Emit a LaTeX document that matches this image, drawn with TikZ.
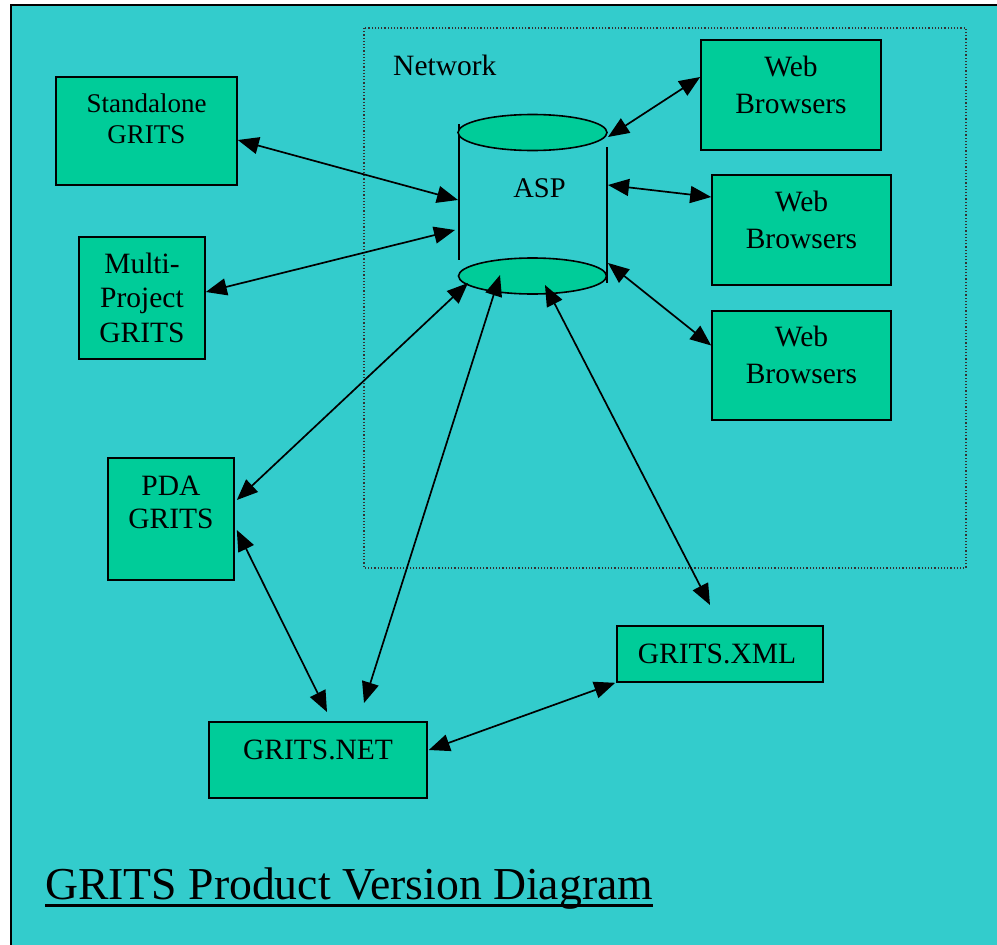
\documentclass[tikz,border=0pt]{standalone}
\usepackage{fontspec}
\setmainfont{Liberation Serif}
\usetikzlibrary{arrows.meta,shapes.geometric}
\definecolor{bg}{HTML}{33CCCC}
\definecolor{boxc}{HTML}{00CC99}
\begin{document}
\begin{tikzpicture}[x=1pt,y=-1pt,
  gbox/.style={draw=black, line width=1.6pt, fill=boxc, inner sep=0pt},
  txt/.style={anchor=base, align=center, inner sep=0pt},
  big/.style={font=\fontsize{29.5}{34.5}\selectfont},
  dbl/.style={{Triangle[length=21pt,width=17pt]}-{Triangle[length=21pt,width=17pt]}, line width=1.7pt},
  cyl/.style={draw=black, line width=1.6pt}]
\useasboundingbox (0,0) rectangle (997,945);
% background and frame
\fill[bg] (11,5) rectangle (1010,960);
\draw[line width=2pt] (11,960) -- (11,5) -- (1010,5);
% network area
\draw[dotted, line width=1.2pt, black!80] (364,28) rectangle (966,568);
\node[anchor=base west, inner sep=0pt, font=\fontsize{29.5}{34}\selectfont] (netlbl) at (393,75) {Network};
% boxes
\node[gbox, minimum width=181pt, minimum height=108pt] (sa) at (146.5,131) {};
\node[gbox, minimum width=126pt, minimum height=122pt] (mp) at (142,298) {};
\node[gbox, minimum width=126pt, minimum height=122pt] (pda) at (171,519) {};
\node[gbox, minimum width=218pt, minimum height=76pt] (net) at (318,760) {};
\node[gbox, minimum width=206pt, minimum height=56pt] (xml) at (720,654) {};
\node[gbox, minimum width=180pt, minimum height=110pt] (wb1) at (791,95) {};
\node[gbox, minimum width=179pt, minimum height=110pt] (wb2) at (801.5,230) {};
\node[gbox, minimum width=179pt, minimum height=109pt] (wb3) at (801.5,365.5) {};
% texts (base anchor = baseline of last line)
\node[txt, font=\fontsize{27}{31}\selectfont] (sa-t) at (146.5,143) {Standalone\\GRITS};
\node[txt, big] (mp-t) at (142,342) {Multi-\\Project\\GRITS};
\node[txt, font=\fontsize{29.5}{33}\selectfont] (pda-t) at (171,528) {PDA\\GRITS};
\node[txt, big] (net-t) at (318,759) {GRITS.NET};
\node[txt, big] (xml-t) at (717,663) {GRITS.XML};
\node[txt, font=\fontsize{29.5}{37}\selectfont] (wb1-t) at (791,113) {Web\\Browsers};
\node[txt, font=\fontsize{29.5}{37}\selectfont] (wb2-t) at (801.5,248) {Web\\Browsers};
\node[txt, font=\fontsize{29.5}{37}\selectfont] (wb3-t) at (801.5,383) {Web\\Browsers};
% ASP cylinder
\draw[cyl] (459,124) -- (459,260);
\draw[cyl] (607,147) -- (607,283);
\node[ellipse, cyl, fill=boxc, minimum width=149pt, minimum height=36pt, inner sep=0pt] (asptop) at (532.5,132.5) {};
\node[ellipse, cyl, fill=boxc, minimum width=148pt, minimum height=36pt, inner sep=0pt] (aspbot) at (532.5,276) {};
\node[txt, font=\fontsize{28.5}{33}\selectfont] (asp) at (539.5,197) {ASP};
% connector end points
\coordinate (sa-e) at ([yshift=-9pt]sa.east);
\coordinate (mp-e) at ([yshift=6pt]mp.east);
\coordinate (pda-e1) at ([xshift=2pt,yshift=19pt]pda.east);
\coordinate (pda-e2) at ([xshift=2pt,yshift=-11pt]pda.east);
\coordinate (net-n1) at (327,712);
\coordinate (net-n2) at (364,703);
\coordinate (net-e) at ([xshift=1pt,yshift=10pt]net.east);
\coordinate (xml-w) at ([xshift=-1pt]xml.south west);
\coordinate (xml-n) at (710,605);
\coordinate (wb1-w) at ([yshift=18pt]wb1.west);
\coordinate (wb2-w) at ([yshift=33pt]wb2.west);
\coordinate (wb3-w) at ([yshift=20pt]wb3.west);
\coordinate (asp-l1) at (458,200);
\coordinate (asp-l2) at (455,230);
\coordinate (asp-r1) at (608,137);
\coordinate (asp-r2) at (608,185);
\coordinate (asp-r3) at (608,263);
\coordinate (asp-b1) at (468,283);
\coordinate (asp-b2) at (500,275);
\coordinate (asp-b3) at (545,285);
% connectors
\draw[dbl] (sa-e) -- (asp-l1);
\draw[dbl] (mp-e) -- (asp-l2);
\draw[dbl] (wb1-w) -- (asp-r1);
\draw[dbl] (wb2-w) -- (asp-r2);
\draw[dbl] (wb3-w) -- (asp-r3);
\draw[dbl] (pda-e1) -- (asp-b1);
\draw[dbl] (pda-e2) -- (net-n1);
\draw[dbl] (net-n2) -- (asp-b2);
\draw[dbl] (xml-n) -- (asp-b3);
\draw[dbl] (net-e) -- (xml-w);
% title
\node[anchor=base west, inner sep=0pt, font=\fontsize{45.7}{55}\selectfont] (title) at (45,899) {GRITS Product Version Diagram};
\draw[line width=3pt] ([yshift=-6pt]title.base west) -- ([yshift=-6pt]title.base east);
\end{tikzpicture}
\end{document}
